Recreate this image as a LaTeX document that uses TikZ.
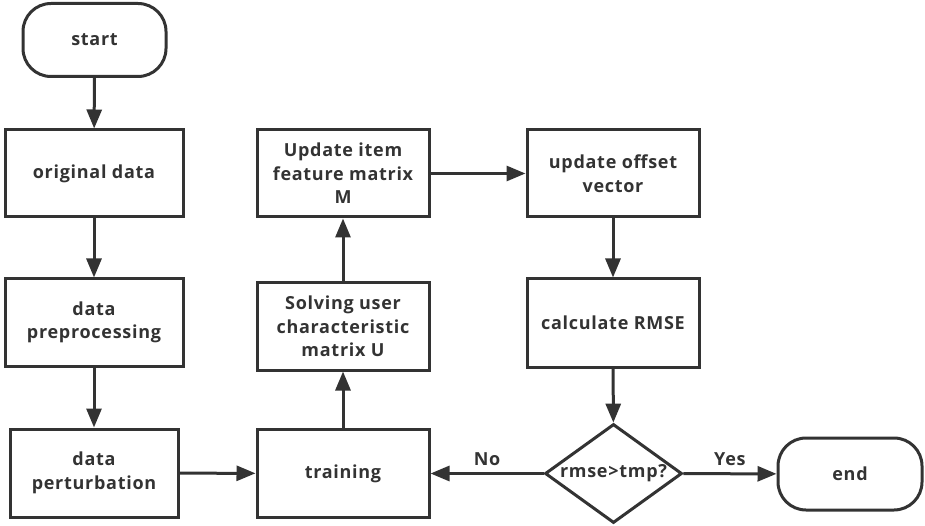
\documentclass[tikz,border=0pt]{standalone}
\usepackage{fontspec}
\setmainfont{Open Sans}[LetterSpace=4]
\usetikzlibrary{shapes.geometric, arrows.meta, positioning}
\definecolor{LineGrey}{HTML}{333333}

\tikzset{
    stepbox/.style={draw=LineGrey, line width=3pt, rectangle, minimum width=172pt, minimum height=87pt, align=center, text=LineGrey, font=\fontsize{18}{23.5}\selectfont\bfseries},
    terminal/.style={stepbox, rounded corners=28pt, minimum width=143pt, minimum height=73pt},
    decision/.style={draw=LineGrey, line width=3pt, diamond, minimum width=137pt, minimum height=99pt, inner sep=0pt},
    flow/.style={draw=LineGrey, line width=3pt, -{Triangle[length=19pt, width=15pt]}},
    answer/.style={text=LineGrey, font=\fontsize{18}{20}\selectfont\bfseries, above=3pt}
}

\begin{document}
\begin{tikzpicture}[x=1pt, y=-1pt]
    \useasboundingbox (0,0) rectangle (925,526);

    % left column
    \node[terminal] (start) at (94.5,40) {start};
    \node[stepbox, minimum width=178pt] (orig) at (94,173.5) {original data};
    \node[stepbox, minimum width=178pt] (prep) at (94,322.5) {data\\preprocessing};
    \node[stepbox, minimum width=168pt, minimum height=88pt] (pert) at (94,473) {data\\perturbation};

    % middle column
    \node[stepbox, minimum height=88pt] (train) at (343,473.5) {training};
    \node[stepbox] (solveU) at (343,326.5) {Solving user\\characteristic\\matrix U};
    \node[stepbox] (updM) at (343,173.5) {Update item\\feature matrix\\M};

    % right column
    \node[stepbox] (offset) at (613,173.5) {update offset\\vector};
    \node[stepbox, minimum height=88pt] (rmse) at (613,323) {calculate RMSE};
    \node[decision, label={[text=LineGrey, font=\fontsize{18}{20}\selectfont\bfseries]center:rmse>tmp?}] (check) at (613.5,473.5) {};
    \node[terminal, minimum width=144pt, minimum height=72pt] (end) at (850,474) {end};

    % connectors
    \draw[flow] (start) -- (orig);
    \draw[flow] (orig) -- (prep);
    \draw[flow] (prep) -- (pert);
    \draw[flow] (pert) -- (train);
    \draw[flow] (train) -- (solveU);
    \draw[flow] (solveU) -- (updM);
    \draw[flow] (updM) -- (offset);
    \draw[flow] (offset) -- (rmse);
    \draw[flow] (rmse) -- (check);
    \draw[flow] (check) -- node[answer] {No} (train);
    \draw[flow] (check) -- node[answer] {Yes} (end);
\end{tikzpicture}
\end{document}
